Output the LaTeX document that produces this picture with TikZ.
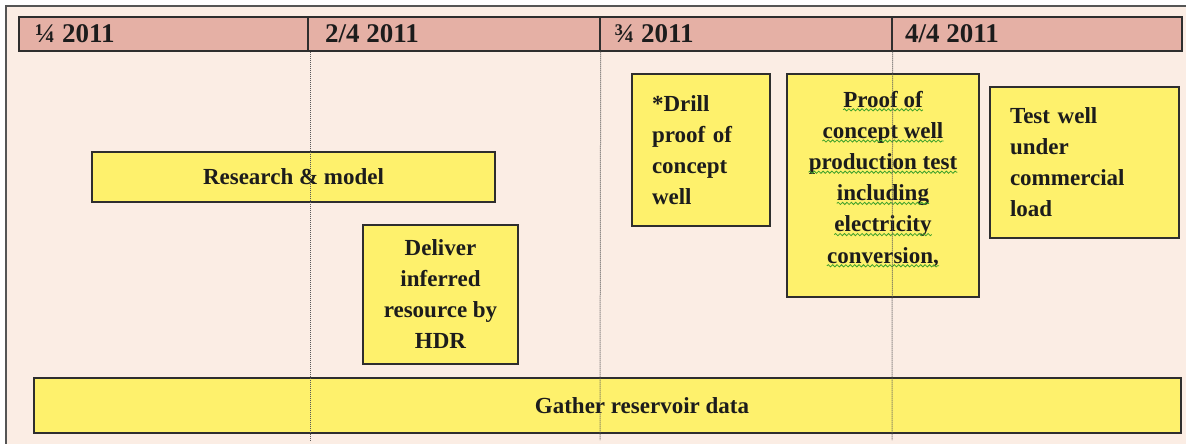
\documentclass[tikz,border=0pt]{standalone}
\usepackage{fontspec}
\setmainfont{Liberation Serif}
\usetikzlibrary{decorations.pathmorphing}

\definecolor{paper}{HTML}{FBEDE4}
\definecolor{headfill}{HTML}{E5B0A5}
\definecolor{taskfill}{HTML}{FEF16C}
\definecolor{edge}{HTML}{2E2E2E}
\definecolor{ink}{HTML}{1C1C1C}
\definecolor{framegray}{HTML}{555555}
\definecolor{guidegray}{HTML}{5A5A5A}
\definecolor{spellgreen}{HTML}{3DA02A}

\tikzset{
  hcell/.style={draw=edge, line width=1.3pt, fill=headfill, minimum height=34pt, inner sep=0pt},
  hlabel/.style={font=\fontsize{27}{27}\selectfont\bfseries, text=ink, inner sep=0pt},
  task/.style={draw=edge, line width=1.3pt, fill=taskfill, inner sep=0pt,
               font=\fontsize{23}{31}\selectfont\bfseries, text=ink},
  tasktext/.style={font=\fontsize{23}{31}\selectfont\bfseries, text=ink, inner sep=0pt},
  guide/.style={draw=guidegray, line width=1pt, dash pattern=on 1pt off 1pt},
  spellwave/.style={draw=spellgreen, line width=0.8pt,
                    decorate, decoration={snake, amplitude=1.1pt, segment length=4.4pt}},
}

\begin{document}
\begin{tikzpicture}[x=1pt, y=-1pt]
\useasboundingbox (0,0) rectangle (1186,444);
\fill[white] (0,0) rectangle (1186,444);
\fill[paper] (6,6) rectangle (1186,444);
\draw[framegray, line width=1.8pt] (6,444) -- (6,6) -- (1186,6);

% quarter header
\node[hcell, minimum width=289pt] (q1) at (163.5,34) {};
\node[hcell, minimum width=292pt] (q2) at (454,34) {};
\node[hcell, minimum width=292pt] (q3) at (746,34) {};
\node[hcell, minimum width=290pt] (q4) at (1037,34) {};
\node[hlabel, anchor=base west] (l1) at (35,43) {¼ 2011};
\node[hlabel, anchor=base west] (l2) at (325,43) {2/4 2011};
\node[hlabel, anchor=base west] (l3) at (614,43) {¾ 2011};
\node[hlabel, anchor=base west] (l4) at (905,43) {4/4 2011};

% tasks
\node[task, minimum width=403pt, minimum height=50pt] (research) at (293.5,177) {Research \& model};
\node[task, minimum width=155pt, minimum height=139pt, align=center] (deliver) at (440.5,294.5)
  {Deliver\\inferred\\resource by\\HDR};
\node[task, minimum width=138pt, minimum height=152pt, text width=98pt, inner xsep=20pt, align=left] (drill) at (701,150)
  {*Drill\\proof of\\concept\\well};
\node[task, minimum width=192pt, minimum height=223pt] (proof) at (883,185.5) {};
\node[task, minimum width=189pt, minimum height=151pt, text width=149pt, inner xsep=20pt, align=left] (testwell) at (1084.5,162.5)
  {Test well\\under\\commercial\\load};
\node[task, minimum width=1147pt, minimum height=55pt] (gather) at (607.5,405.5) {};
\node[tasktext] (gathertext) at (642,405.5) {Gather reservoir data};

% lines of the proof-of-concept box, each with its wavy underline
\foreach \txt/\yb [count=\i] in {{Proof of}/107, {concept well}/138.2, {production test}/169.4,
                                 {including}/200.6, {electricity}/231.8, {conversion,}/263}{
  \node[tasktext, anchor=base] (pl\i) at (883,\yb) {\txt};
  \draw[spellwave] ([yshift=-2.8pt]pl\i.base west) -- ([yshift=-2.8pt]pl\i.base east);
}

% quarter boundaries
\coordinate (b2) at (310,440);
\coordinate (b3) at (600,440);
\coordinate (b4) at (892,440);
\draw[guide] (q1.south east -| b2) -- (b2);
\draw[guide] (q2.south east) -- (b3);
\draw[guide] (q3.south east) -- (b4);
\end{tikzpicture}
\end{document}
